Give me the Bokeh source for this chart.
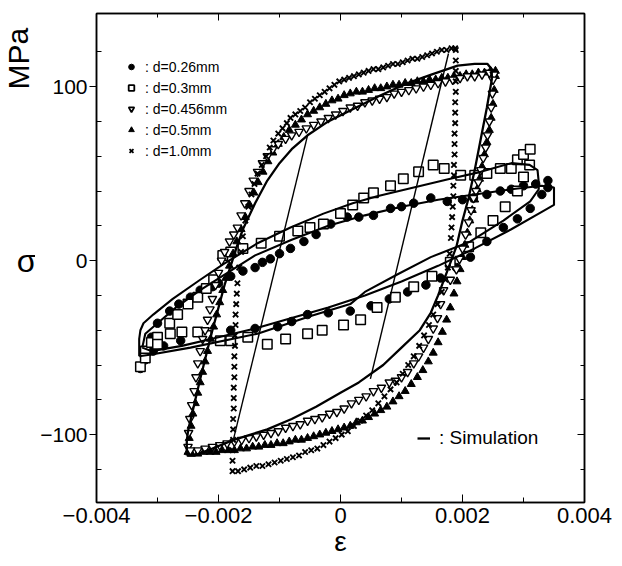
from bokeh.plotting import figure
from bokeh.layouts import row
from bokeh.models import (Range1d, FixedTicker, LinearAxis, Legend, LegendItem,
                          CustomJSTickFormatter)
from bokeh.core.properties import value
from bokeh.embed import file_html
from bokeh.resources import INLINE

FONT = "Liberation Sans"
NAN = float("nan")

# ---------------- axis ticks / texts ----------------
x_major = [-0.004, -0.002, 0.0, 0.002, 0.004]
x_minor = [-0.003, -0.001, 0.001, 0.003]
y_major = [-100, 0, 100]
y_minor = [-120, -80, -60, -40, -20, 20, 40, 60, 80, 120]

x_title = "ε"
y_title = "σ"
y_unit = "MPa"
legend_labels = [": d=0.26mm", ": d=0.3mm", ": d=0.456mm", ": d=0.5mm", ": d=1.0mm"]
sim_label = ": Simulation"

# ---------------- d = 0.26 mm (filled circles) ----------------
eps_026 = [-0.00328, -0.0032, -0.0031, -0.003, -0.0028, -0.00265, -0.00246, -0.0023, -0.0021,
           -0.002, -0.0018, -0.0016, -0.0014, -0.00128, -0.00115, -0.001, -0.00082, -0.0006,
           -0.0004, -0.00016, 0.00011, 0.0003, 0.00054, 0.00082, 0.001, 0.0012, 0.00148,
           0.00175, 0.002, 0.00218, 0.0024, 0.00262, 0.0028, 0.003, 0.0032, 0.0034,
           0.0034, 0.0033, 0.00311, 0.0029, 0.00267, 0.0024, 0.00213, 0.0019, 0.00164,
           0.0014, 0.0011, 0.0008, 0.0005, 0.00016, -0.0002, -0.00054, -0.0008, -0.00103,
           -0.0014, -0.0018, -0.0022, -0.00262, -0.0029, -0.00307, -0.0032]
sig_026 = [-62, -52, -44, -36, -29, -25, -21, -17, -15,
           -13, -9, -6, -4, -1, 1, 4, 7, 11,
           15, 21, 25, 25, 26, 30, 31, 33, 36,
           34, 35, 36, 38, 40, 41, 43, 44, 46,
           42, 38, 30, 24, 19, 11, 2, -4, -10,
           -14, -18, -22, -26, -29, -30, -31, -35, -38,
           -39, -40, -43, -46, -49, -52, -57]

# ---------------- d = 0.3 mm (open squares) ----------------
eps_03 = [-0.00328, -0.0032, -0.0031, -0.003, -0.0028, -0.00267, -0.0025, -0.00234, -0.0022,
          -0.00208, -0.00193, -0.0018, -0.0016, -0.0013, -0.001, -0.0007, -0.0005, -0.00028,
          0.0, 0.0002, 0.00038, 0.00054, 0.00082, 0.00103, 0.00128, 0.00152, 0.0017,
          0.00197, 0.0022, 0.0024, 0.00262, 0.0028, 0.0029, 0.003, 0.00311,
          0.0031, 0.003, 0.0029, 0.0027, 0.0025, 0.0023, 0.0021, 0.0018, 0.0015,
          0.0012, 0.0009, 0.0006, 0.00033, 0.00005, -0.0003, -0.00054, -0.0009, -0.0012,
          -0.00152, -0.0018, -0.00197, -0.0022, -0.00234, -0.0026, -0.00279, -0.003, -0.0032]
sig_03 = [-61, -52, -47, -44, -36, -31, -25, -21, -16,
          -11, 3, 5, 7, 10, 14, 17, 19, 21,
          27, 32, 36, 39, 43, 47, 51, 55, 53,
          49, 49, 50, 53, 53, 58, 61, 64,
          55, 48, 40, 31, 23, 16, 8, -1, -9,
          -15, -21, -27, -34, -37, -40, -42, -45, -48,
          -44, -46, -46, -43, -41, -41, -42, -48, -56]

# ---------------- d = 0.456 mm (open down-triangles) ----------------
eps_0456 = [-0.0025, -0.00249, -0.00247, -0.00244, -0.0024, -0.00237, -0.00234, -0.0023, -0.00226,
            -0.00222, -0.00218, -0.00214, -0.0021, -0.00205, -0.002, -0.00195, -0.0019, -0.00182,
            -0.00175, -0.00169, -0.00163, -0.00157, -0.0015, -0.00143, -0.00136, -0.00128, -0.0012,
            -0.00111, -0.00102, -0.0009, -0.0008, -0.00068, -0.00056, -0.00044, -0.00032, -0.0002,
            -0.00008, 0.00004, 0.00016, 0.00028, 0.0004, 0.00052, 0.00064, 0.00076, 0.00088,
            0.001, 0.00112, 0.00124, 0.00136, 0.00148, 0.0016, 0.00172, 0.00184, 0.00196,
            0.00208, 0.0022, 0.00232, 0.00244, 0.00252,
            0.0025, 0.00249, 0.00247, 0.00244, 0.00241, 0.00238, 0.00234, 0.0023, 0.00226,
            0.00222, 0.00218, 0.00214, 0.0021, 0.00205, 0.002, 0.00195, 0.0019, 0.0018,
            0.00169, 0.00164, 0.00159, 0.00152, 0.00144, 0.00136, 0.00128, 0.0012, 0.0011,
            0.001, 0.0009, 0.0008, 0.00067, 0.00054, 0.00042, 0.0003, 0.00018, 0.00006,
            -0.00006, -0.00018, -0.0003, -0.00042, -0.00054, -0.00066, -0.00078, -0.0009, -0.00102,
            -0.00114, -0.00126, -0.00138, -0.0015, -0.00162, -0.00174, -0.00186, -0.00198, -0.0021,
            -0.00222, -0.00234, -0.00246]
sig_0456 = [-107, -99, -91, -83, -75, -67, -59, -52, -45,
            -40, -34, -28, -22, -14, -7, 0, 5, 11,
            15, 19, 26, 33, 40, 46, 51, 56, 60,
            64, 67, 70, 72, 74, 76, 78, 80, 82,
            84, 86, 88, 89, 91, 92, 93, 94, 96,
            97, 98, 99, 100, 101, 102, 103, 104, 105,
            106, 106, 107, 108, 107,
            104, 96, 88, 80, 72, 65, 59, 52, 45,
            40, 36, 29, 22, 15, 7, 1, -5, -11,
            -17, -25, -33, -39, -45, -50, -55, -59, -64,
            -67, -69, -70, -73, -75, -78, -80, -82, -85,
            -87, -88, -90, -91, -92, -94, -95, -96, -98,
            -99, -100, -101, -102, -103, -104, -105, -106, -107,
            -108, -109, -109]

# ---------------- d = 0.5 mm (filled up-triangles) ----------------
eps_05 = [-0.0025, -0.00248, -0.00245, -0.00242, -0.00238, -0.00234, -0.0023, -0.00226, -0.00222,
          -0.00218, -0.00213, -0.00208, -0.00203, -0.00198, -0.00193, -0.00188, -0.00182, -0.00176,
          -0.0017, -0.00163, -0.00156, -0.00149, -0.00142, -0.00135, -0.00127, -0.00119, -0.00111,
          -0.00102, -0.00093, -0.00084, -0.00074, -0.00064, -0.00054, -0.00044, -0.00034, -0.00024,
          -0.00014, -0.00004, 0.00006, 0.00016, 0.00026, 0.00036, 0.00046, 0.00056, 0.00066,
          0.00076, 0.00086, 0.00096, 0.00106, 0.00116, 0.00126, 0.00136, 0.00146, 0.00156,
          0.00166, 0.00176, 0.00186, 0.00196, 0.00206, 0.00216, 0.00226, 0.00236, 0.00246, 0.00254,
          0.00254, 0.00252, 0.0025, 0.00247, 0.00244, 0.0024, 0.00236, 0.00232, 0.00228,
          0.00224, 0.0022, 0.00216, 0.00212, 0.00208, 0.00204, 0.002, 0.00196, 0.00191,
          0.00186, 0.0018, 0.00174, 0.00167, 0.0016, 0.00152, 0.00144, 0.00135, 0.00126,
          0.00116, 0.00106, 0.00096, 0.00086, 0.00076, 0.00066, 0.00056, 0.00046, 0.00036,
          0.00026, 0.00016, 0.00006, -0.00004, -0.00014, -0.00024, -0.00034, -0.00044, -0.00054,
          -0.00064, -0.00074, -0.00084, -0.00094, -0.00104, -0.00114, -0.00124, -0.00134, -0.00144,
          -0.00154, -0.00164, -0.00174, -0.00184, -0.00194, -0.00204, -0.00214, -0.00224, -0.00234,
          -0.00244]
sig_05 = [-110, -102, -95, -88, -82, -76, -70, -64, -58,
          -52, -45, -38, -31, -24, -17, -10, -3, 4,
          11, 18, 25, 32, 39, 45, 51, 57, 62,
          67, 71, 75, 78, 81, 84, 86, 88, 90,
          92, 93, 95, 96, 97, 97, 98, 99, 99,
          100, 101, 101, 102, 102, 103, 103, 104, 104,
          105, 105, 106, 106, 107, 107, 108, 108, 109, 109,
          106, 98, 90, 82, 75, 68, 61, 54, 47,
          41, 35, 29, 23, 16, 9, 2, -5, -12,
          -19, -27, -34, -41, -47, -53, -58, -63, -67,
          -71, -75, -78, -81, -84, -86, -88, -90, -92,
          -93, -95, -96, -97, -98, -99, -100, -101, -102,
          -103, -103, -104, -105, -105, -106, -106, -107, -107,
          -108, -108, -109, -109, -109, -110, -110, -110, -111,
          -111]

# ---------------- d = 1.0 mm (crosses) ----------------
eps_10 = [-0.00177, -0.00177, -0.00177, -0.00176, -0.00176, -0.00176, -0.00175, -0.00175, -0.00175,
          -0.00174, -0.00174, -0.00174, -0.00173, -0.00173, -0.00172, -0.00172, -0.00171, -0.0017,
          -0.00169, -0.00166, -0.00163, -0.0016, -0.00156, -0.00151,
          -0.00146, -0.00141, -0.00136, -0.00129, -0.00122, -0.00116, -0.0011, -0.00102, -0.00095,
          -0.00088, -0.00082, -0.00074, -0.00066, -0.00058, -0.0005, -0.00042, -0.00034, -0.00026,
          -0.00018, -0.0001, -0.00002, 0.00006, 0.00014, 0.00022, 0.0003, 0.00038, 0.00046,
          0.00054, 0.00062, 0.0007, 0.00078, 0.00086, 0.00094, 0.00102, 0.0011, 0.00118,
          0.00126, 0.00134, 0.00142, 0.0015, 0.00158, 0.00166, 0.00174, 0.00182, 0.00188,
          0.00189, 0.00189, 0.00189, 0.00189, 0.00189, 0.00188, 0.00188, 0.00188, 0.00187,
          0.00187, 0.00187, 0.00186, 0.00186, 0.00185, 0.00185, 0.00184, 0.00183, 0.00182,
          0.00181, 0.00179, 0.00176, 0.00172, 0.00166, 0.00159,
          0.00152, 0.00145, 0.00137, 0.00129, 0.0012, 0.00111, 0.00102, 0.00092, 0.00082,
          0.00072, 0.00062, 0.00052, 0.00042, 0.00032, 0.00022, 0.00012, 0.00002, -0.00008,
          -0.00018, -0.00028, -0.00038, -0.00048, -0.00058, -0.00068, -0.00078, -0.00088, -0.00098,
          -0.00108, -0.00118, -0.00128, -0.00138, -0.00148, -0.00158, -0.00168]
sig_10 = [-121, -115, -109, -103, -97, -91, -85, -79, -73,
          -67, -61, -55, -49, -43, -37, -31, -25, -19,
          -13, -4, 5, 14, 23, 31,
          38, 44, 50, 55, 60, 65, 69, 73, 76,
          79, 82, 84, 86, 88, 91, 93, 95, 97,
          99, 101, 103, 104, 105, 106, 107, 108, 109,
          110, 110, 111, 112, 113, 113, 114, 115, 116,
          116, 117, 118, 119, 120, 121, 121, 122, 122,
          121, 115, 109, 103, 97, 91, 85, 79, 73,
          67, 61, 55, 49, 43, 37, 31, 25, 19,
          13, 4, -4, -11, -18, -25,
          -31, -37, -43, -49, -55, -60, -65, -70, -74,
          -78, -82, -86, -89, -92, -95, -98, -100, -102,
          -104, -106, -108, -109, -110, -112, -113, -114, -115,
          -116, -117, -118, -118, -119, -120, -121]

# ---------------- simulation curves ----------------
sim_big_eps = [-0.00252, -0.00252, -0.0025, -0.0024, -0.0023, -0.0022, -0.0021, -0.002, -0.0019,
               -0.0018, -0.0017, -0.0016, -0.0014, -0.0012, -0.001, -0.0008, -0.00054, -0.0002,
               0.0002, 0.00066, 0.0011, 0.0015, 0.00192, 0.0022, 0.00241, 0.00248, 0.00248,
               0.0024, 0.0023, 0.0022, 0.0021, 0.002, 0.0019, 0.00175, 0.0016, 0.00148,
               0.0013, 0.001, 0.0007, 0.0003, 0.0, -0.0004, -0.0008, -0.0012, -0.00175,
               -0.0021, -0.0024, -0.00252]
sim_big_sig = [-112, -104, -98, -83, -68, -54, -40, -27, -14,
               -3, 8, 18, 33, 46, 56, 64, 72, 80,
               87, 95, 102, 107, 112, 113, 113, 110, 104,
               88, 70, 52, 36, 23, 8, -6, -20, -30,
               -40, -50, -60, -70, -76, -84, -91, -97, -103,
               -108, -112, -112]

sim_thin_eps = [[-0.00175, -0.00054], [0.00177, 0.00049]]
sim_thin_sig = [[-102, 72], [119, -68]]

sim_s1_eps = [-0.0033, -0.0033, -0.00328, -0.00323, -0.00307, -0.00275, -0.0023, -0.00192, -0.00136,
              -0.00082, -0.00028, 0.0002, 0.0006, 0.0012, 0.0018, 0.0023, 0.0028, 0.0031,
              0.00323, 0.00325, 0.00325, 0.00311, 0.00267, 0.00213, 0.00148, 0.00093, 0.0004,
              0.00016, -0.0005, -0.00136, -0.00246, -0.0031, -0.0033]
sim_s1_sig = [-55, -45, -40, -36, -31, -22, -11, -2, 10,
              19, 27, 33, 37, 42, 47, 51, 56, 55,
              52, 45, 41, 34, 23, 11, 2, -8, -18,
              -25, -32, -42, -50, -54, -55]

sim_s2_eps = [-0.00325, -0.0032, -0.003, -0.0027, -0.0023, -0.0019, -0.0014, -0.0008, -0.0002,
              0.0004, 0.001, 0.0016, 0.0022, 0.0028, 0.0033, 0.0035, 0.0035, 0.0033, 0.0028,
              0.0022, 0.0016, 0.001, 0.0004, -0.0002, -0.0008, -0.0014, -0.002, -0.0026,
              -0.0031, -0.00325]
sim_s2_sig = [-50, -42, -36, -27, -17, -8, 3, 12, 20,
              26, 31, 35, 38, 41, 43, 42, 32, 28, 18,
              7, -3, -12, -20, -27, -33, -39, -44, -49,
              -52, -50]

H = 564
TOP, BOTTOM = 13, 62
Y_RANGE = (-139, 142)
SIDE_W = 35

# ---------------- narrow strip carrying the y-axis titles ----------------
side = figure(width=SIDE_W, height=H, x_range=Range1d(0, SIDE_W), y_range=Range1d(*Y_RANGE),
              output_backend="svg", toolbar_location=None,
              x_axis_location=None, y_axis_location=None,
              min_border_left=0, min_border_right=0, min_border_top=TOP, min_border_bottom=BOTTOM)
side.xgrid.visible = False
side.ygrid.visible = False
side.outline_line_color = None
side.text(x=[26], y=[0], text=[y_title], text_align="center", text_baseline="middle",
          text_font=value(FONT), text_font_size="32px", text_color="black")
side.text(x=[17.5], y=[116], text=[y_unit], text_align="center", text_baseline="middle",
          angle=1.5708, text_font=value(FONT), text_font_size="30px", text_color="black")

# ---------------- main figure ----------------
p = figure(width=620 - SIDE_W, height=H, x_range=Range1d(-0.004, 0.004), y_range=Range1d(*Y_RANGE),
           output_backend="svg", toolbar_location=None,
           min_border_left=96 - SIDE_W, min_border_right=36, min_border_top=TOP,
           min_border_bottom=BOTTOM)
p.xgrid.visible = False
p.ygrid.visible = False
p.outline_line_color = "black"
p.outline_line_width = 1.5
p.background_fill_color = "white"
p.border_fill_color = "white"

fmt = CustomJSTickFormatter(code="return tick < 0 ? '\\u2212' + String(-tick) : String(tick);")
blank = CustomJSTickFormatter(code="return '';")

xt = FixedTicker(ticks=x_major, minor_ticks=x_minor)
yt = FixedTicker(ticks=y_major, minor_ticks=y_minor)

xa = p.xaxis[0]
xa.ticker = xt
xa.formatter = fmt
xa.major_tick_in = 8
xa.major_tick_out = 0
xa.minor_tick_in = 5
xa.minor_tick_out = 0
xa.major_label_standoff = 5
xa.major_label_text_font = FONT
xa.major_label_text_font_size = "22px"
xa.major_label_text_color = "black"
xa.axis_line_width = 1.5
xa.axis_label = x_title
xa.axis_label_standoff = 0
xa.axis_label_text_font = FONT
xa.axis_label_text_font_size = "28px"
xa.axis_label_text_font_style = "normal"
xa.axis_label_text_color = "black"

ya = p.yaxis[0]
ya.ticker = yt
ya.formatter = fmt
ya.major_tick_in = 0
ya.major_tick_out = 7
ya.minor_tick_in = 5
ya.minor_tick_out = 0
ya.major_label_standoff = 2
ya.major_label_text_font = FONT
ya.major_label_text_font_size = "21px"
ya.major_label_text_color = "black"
ya.axis_line_width = 1.5

for loc, tk in (("above", xt), ("right", yt)):
    ax = LinearAxis(ticker=tk, formatter=blank, major_label_standoff=0,
                    major_tick_in=7, major_tick_out=0, minor_tick_in=4, minor_tick_out=0,
                    axis_line_width=1.5)
    p.add_layout(ax, loc)

# data markers
r26 = p.scatter(eps_026, sig_026, marker="circle", size=8.5, fill_color="black", line_color="black")
r03 = p.scatter(eps_03, sig_03, marker="square", size=9.5, fill_color="white", line_color="black",
                line_width=1.5)
r05 = p.scatter(eps_05, sig_05, marker="triangle", size=8, fill_color="black", line_color="black")
r0456 = p.scatter(eps_0456, sig_0456, marker="inverted_triangle", size=8.5, fill_color="white",
                  line_color="black", line_width=1.4)
r10 = p.scatter(eps_10, sig_10, marker="x", size=7.5, line_color="black", line_width=1.9)

# simulation
rsim = p.line(sim_big_eps, sim_big_sig, line_color="black", line_width=2.3)
p.line(sim_s1_eps, sim_s1_sig, line_color="black", line_width=2.1)
p.line(sim_s2_eps, sim_s2_sig, line_color="black", line_width=2.1)
p.multi_line(sim_thin_eps, sim_thin_sig, line_color="black", line_width=1.4)

# legend proxies (a single NaN point each, not drawn in the plot)
l26 = p.scatter([NAN], [NAN], marker="circle", size=11, fill_color="black", line_color="black")
l03 = p.scatter([NAN], [NAN], marker="square", size=10, fill_color="white", line_color="black", line_width=1.8)
l0456 = p.scatter([NAN], [NAN], marker="inverted_triangle", size=11, fill_color="white", line_color="black", line_width=1.8)
l05 = p.scatter([NAN], [NAN], marker="triangle", size=11, fill_color="black", line_color="black")
l10 = p.scatter([NAN], [NAN], marker="x", size=8, line_color="black", line_width=1.8)

leg = Legend(items=[LegendItem(label=lab, renderers=[r]) for lab, r in
                    zip(legend_labels, [l26, l03, l0456, l05, l10])],
             location=(28, 341), orientation="vertical",
             label_text_font=FONT, label_text_font_size="14px", label_text_color="black",
             glyph_width=14, glyph_height=21, label_height=21, label_standoff=7,
             spacing=0, padding=0, margin=0, border_line_color=None, background_fill_alpha=0)
p.add_layout(leg)

leg2 = Legend(items=[LegendItem(label=sim_label, renderers=[rsim])],
              location=(321, 53), label_text_font=FONT, label_text_font_size="19px",
              label_text_color="black", glyph_width=13, glyph_height=22, label_height=22,
              label_standoff=9, spacing=0, padding=0, margin=0, border_line_color=None,
              background_fill_alpha=0)
p.add_layout(leg2)

layout = row(side, p, spacing=0)
open("out.html", "w").write(file_html(layout, INLINE))
